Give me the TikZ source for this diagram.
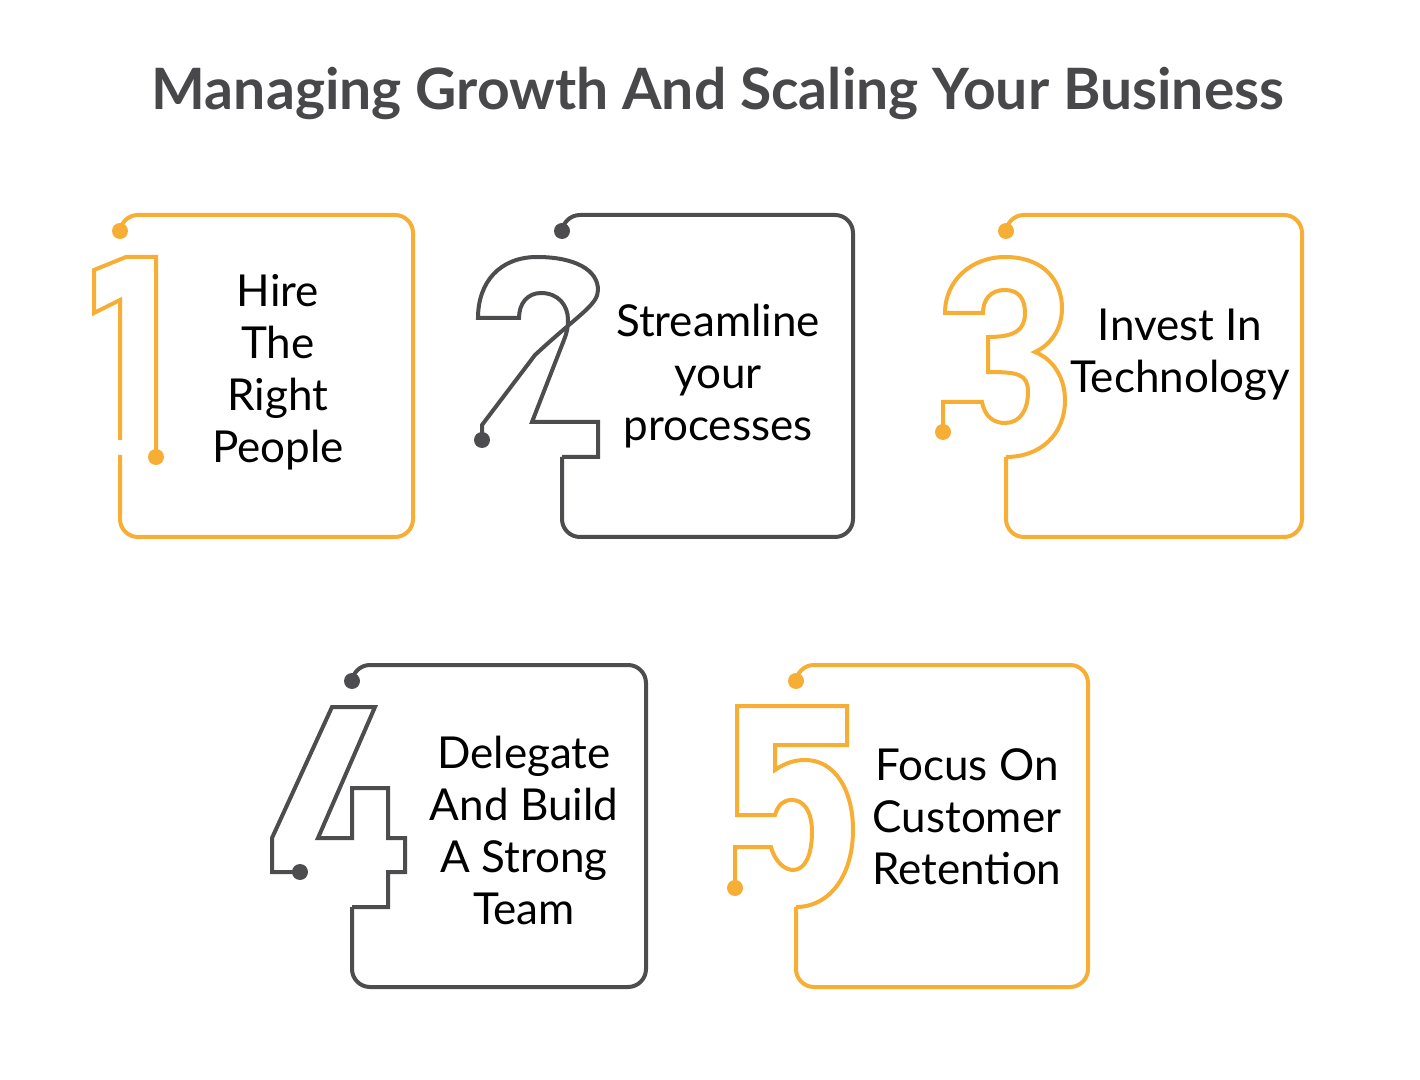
\documentclass[tikz,border=0pt]{standalone}
\usepackage{fontspec}
\setmainfont{Lato}
\definecolor{org}{HTML}{F7AE34}
\definecolor{gry}{HTML}{4D4D4F}
\definecolor{ttl}{HTML}{48484A}
\begin{document}
\begin{tikzpicture}[x=0.5pt,y=-0.5pt,
  ln/.style={line width=2pt,line join=miter},
  box/.style={line width=2pt,rounded corners=9pt},
  dotc/.style={fill,circle,inner sep=0pt,minimum size=8pt},
  lbl/.style={align=center,font=\fontsize{22}{26}\selectfont,text=black}]
\useasboundingbox (0,0) rectangle (1420,1080);
\fill[white] (0,0) rectangle (1420,1080);
\node[font=\bfseries\fontsize{28.5}{32}\selectfont,text=ttl] (title) at (718,93) {Managing Growth And Scaling Your Business};
% 1
\begin{scope}[org]
\node[dotc] (d1a) at (120,231) {};
\node[dotc] (d1b) at (156,457) {};
\draw[box] (d1a.center) -- (120,215) -- (413,215) -- (413,537) -- (120,537) -- (120,455);
\draw[ln] (120,440) -- (120,300) -- (94,313) -- (94,270) -- (126,257) -- (156,257) -- (d1b.center);
\end{scope}
\node[lbl] (t1) at (278,372) {Hire\\The\\Right\\People};
% 2
\begin{scope}[gry]
\node[dotc] (d2a) at (562,231) {};
\node[dotc] (d2b) at (482,440) {};
\draw[box] (d2a.center) -- (562,215) -- (853,215) -- (853,537) -- (562,537) -- (562,457);
\draw[ln] (d2b.center) -- (482,425) -- (535,355) .. controls (578,315) and (598,305) .. (598,290) .. controls (598,270) and (575,257) .. (537,257) .. controls (500,257) and (478,282) .. (478,318) -- (519,318) .. controls (519,303) and (528,293) .. (541,293) .. controls (558,293) and (568,305) .. (568,320) .. controls (568,330) and (566,335) .. (562,345) -- (532,422) -- (598,422) -- (598,457) -- (562,457);
\end{scope}
\node[lbl] (t2) at (718,376) {Streamline\\your\\processes};
% 3
\begin{scope}[org]
\node[dotc] (d3a) at (1006,231) {};
\node[dotc] (d3b) at (943,432) {};
\draw[box] (d3a.center) -- (1006,215) -- (1302,215) -- (1302,537) -- (1006,537) -- (1006,457);
\draw[ln] (d3b.center) -- (943,402) -- (982,402) .. controls (985,418) and (995,423) .. (1005,423) .. controls (1020,423) and (1028,410) .. (1028,392) .. controls (1028,374) and (1018,372) .. (988,372) -- (988,337) .. controls (1015,337) and (1025,330) .. (1025,313) .. controls (1025,298) and (1018,290) .. (1005,290) .. controls (990,290) and (983,300) .. (983,313) -- (945,313) .. controls (945,280) and (972,257) .. (1005,257) .. controls (1045,257) and (1062,282) .. (1062,308) .. controls (1062,330) and (1050,345) .. (1035,352) .. controls (1055,360) and (1065,380) .. (1065,400) .. controls (1065,435) and (1040,457) .. (1006,457);
\end{scope}
\node[lbl] (t3) at (1180,355) {Invest In\\Technology};
% 4
\begin{scope}[gry]
\node[dotc] (d4a) at (352,681) {};
\node[dotc] (d4b) at (300,872) {};
\draw[box] (d4a.center) -- (352,665) -- (646,665) -- (646,987) -- (352,987) -- (352,907);
\draw[ln] (d4b.center) -- (272,872) -- (272,838) -- (332,707) -- (375,707) -- (318,838) -- (352,838) -- (352,788) -- (388,788) -- (388,838) -- (405,838) -- (405,872) -- (388,872) -- (388,907) -- (352,907);
\end{scope}
\node[lbl] (t4) at (524,830) {Delegate\\And Build\\A Strong\\Team};
% 5
\begin{scope}[org]
\node[dotc] (d5a) at (796,681) {};
\node[dotc] (d5b) at (735,888) {};
\draw[box] (d5a.center) -- (796,665) -- (1088,665) -- (1088,987) -- (796,987) -- (796,907);
\draw[ln] (d5b.center) -- (735,847) -- (771,847) .. controls (775,862) and (785,870) .. (793,870) .. controls (805,870) and (812,855) .. (812,832) .. controls (812,810) and (803,800) .. (792,800) .. controls (783,800) and (778,805) .. (775,815) -- (737,815) -- (737,706) -- (847,706) -- (847,745) -- (775,745) -- (775,770) .. controls (785,763) and (795,760) .. (805,760) .. controls (835,760) and (853,790) .. (853,830) .. controls (853,875) and (830,907) .. (796,907);
\end{scope}
\node[lbl] (t5) at (967,817) {Focus On\\Customer\\Retention};
\end{tikzpicture}
\end{document}
